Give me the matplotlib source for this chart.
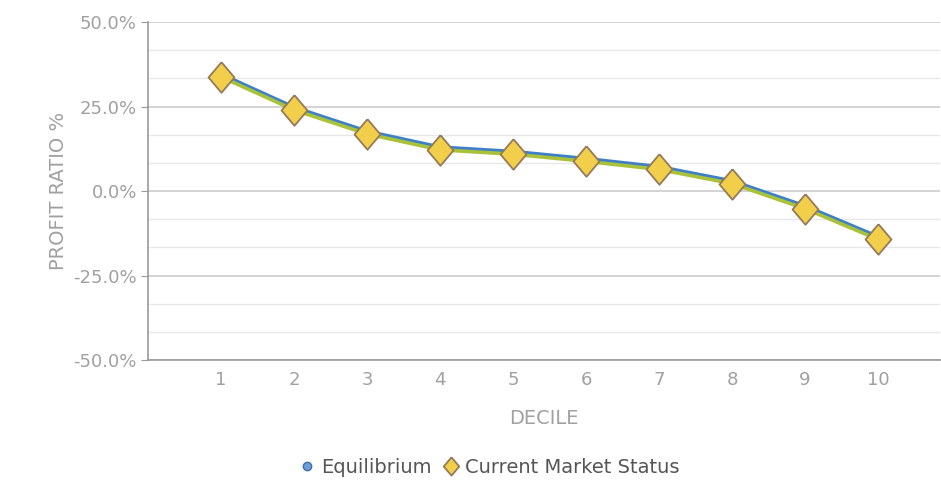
import matplotlib.pyplot as plt
from matplotlib.ticker import MultipleLocator, PercentFormatter

plt.rcParams["axes.unicode_minus"] = False

deciles = [1, 2, 3, 4, 5, 6, 7, 8, 9, 10]
equilibrium = [34.6, 24.8, 17.7, 13.0, 11.7, 9.6, 7.2, 3.0, -4.4, -13.5]
current_market = [33.8, 24.0, 16.9, 12.2, 10.9, 8.8, 6.4, 2.2, -5.2, -14.3]
y_ticks = [-50, -25, 0, 25, 50]

# slightly tall diamond for the market series
tall_diamond = [(0, 1.12), (0.95, 0), (0, -1.12), (-0.95, 0), (0, 1.12)]

fig = plt.figure(figsize=(9.41, 4.80), dpi=100)
ax = fig.add_axes([148 / 941, 0.25, (940 - 148) / 941, 0.704])

ax.plot(deciles, equilibrium, color="#3d80c8", lw=2.6, marker="o",
        markersize=10, markerfacecolor="#6f9fd8", markeredgecolor="#3d6ea8",
        zorder=3, label="Equilibrium")
ax.plot(deciles, current_market, color="#a9c23a", lw=2.6, marker=tall_diamond,
        markersize=22, markerfacecolor="#f2cf4a", markeredgecolor="#957a5a",
        markeredgewidth=1.3, zorder=4, label="Current Market Status")

ax.set_xlim(0, 10.85)
ax.set_ylim(-50, 50)
ax.set_xticks(deciles)
ax.set_yticks(y_ticks)
ax.yaxis.set_minor_locator(MultipleLocator(25 / 3))
ax.yaxis.set_major_formatter(PercentFormatter(decimals=1))

ax.grid(axis="y", which="major", color="#cccccc", lw=1.2)
ax.grid(axis="y", which="minor", color="#e8e8e8", lw=1)
ax.set_axisbelow(True)

for side in ("top", "right"):
    ax.spines[side].set_visible(False)
for side in ("left", "bottom"):
    ax.spines[side].set_color("#999999")
    ax.spines[side].set_linewidth(1.2)

ax.tick_params(axis="y", which="major", length=5, color="#999999",
               labelcolor="#a0a0a0", labelsize=13, pad=3)
ax.tick_params(axis="y", which="minor", length=0)
ax.tick_params(axis="x", length=0, labelcolor="#a0a0a0", labelsize=13, pad=8)

ax.set_xlabel("DECILE", color="#a0a0a0", fontsize=14, labelpad=14)
ax.set_ylabel("PROFIT RATIO %", color="#a0a0a0", fontsize=14, labelpad=4)

leg = fig.legend(loc="center", bbox_to_anchor=(0.52, 0.027), ncol=2,
                 frameon=False, fontsize=14, labelcolor="#555555",
                 handlelength=0.8, handletextpad=0.3, columnspacing=0.6,
                 markerscale=0.6)
for h in leg.legend_handles:
    h.set_linestyle("none")

fig.savefig("out.png", dpi=100)
